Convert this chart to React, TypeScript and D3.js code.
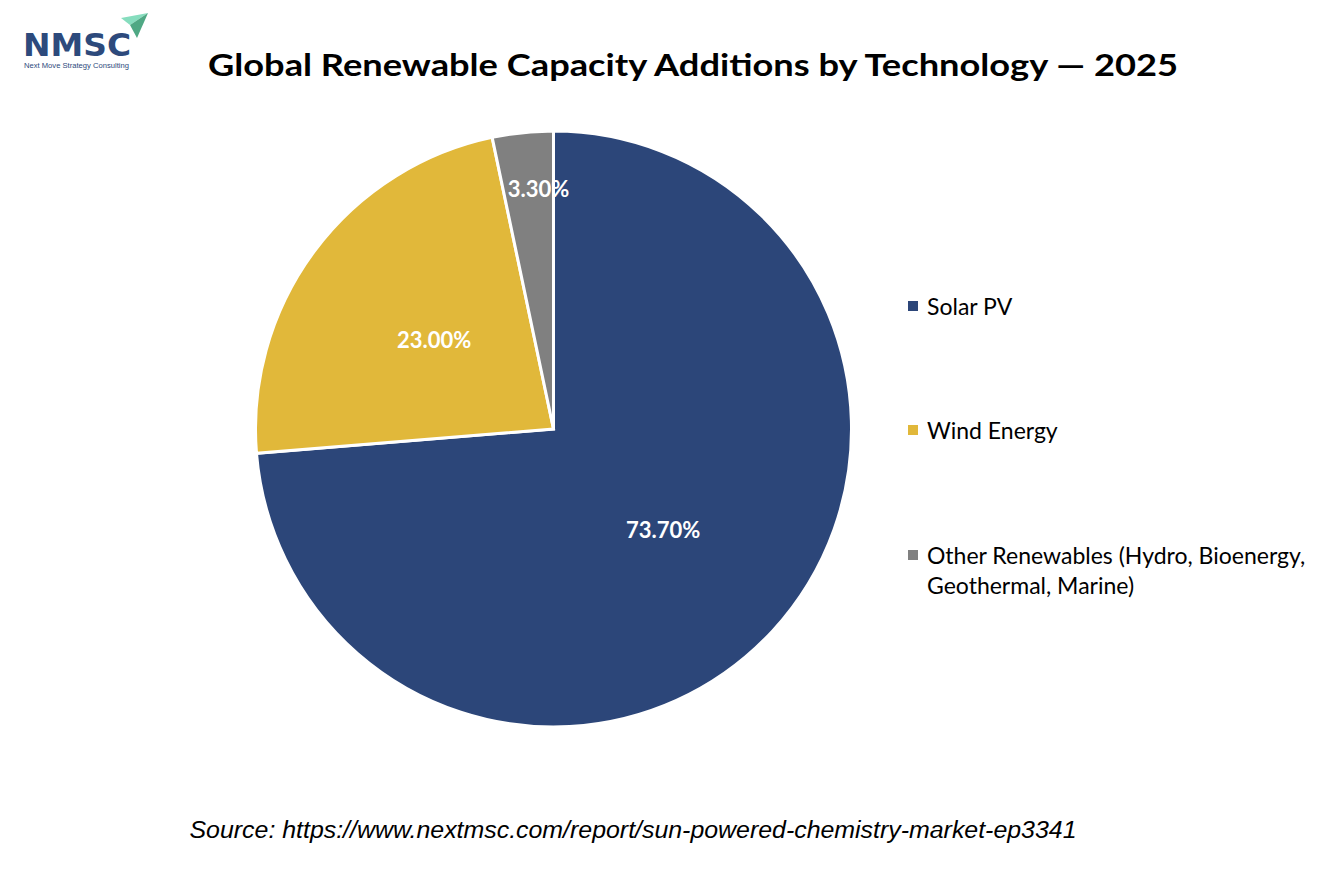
import React from "react";
import * as d3 from "d3";

const categories = [
  "Solar PV",
  "Wind Energy",
  "Other Renewables (Hydro, Bioenergy, Geothermal, Marine)",
];
const legendLines = [["Solar PV"], ["Wind Energy"], ["Other Renewables (Hydro, Bioenergy,", "Geothermal, Marine)"]];
const values = [73.7, 23.0, 3.3];
const valueLabels = ["73.70%", "23.00%", "3.30%"];
const colors = ["#2C4679", "#E1B83A", "#808080"];

const W = 1334;
const H = 889;
const cx = 553.5;
const cy = 429;
const R = 298;

export default function App() {
  const pie = d3.pie<number>().sort(null).value((d) => d)(values);
  const arc = d3.arc<d3.PieArcDatum<number>>().innerRadius(0).outerRadius(R);
  const legendY = [306, 430, 555];
  return (
    <svg
      width={W}
      height={H}
      style={{ position: "absolute", left: 0, top: 0, background: "#fff" }}
    >
      {/* Logo */}
      <g>
        <polygon points="121,18 148,13 130,25" fill="#86DDBE" />
        <polygon points="130,25 148,13 137,38" fill="#4FA884" />
        <text
          x={23}
          y={56}
          fontFamily="'DejaVu Sans', sans-serif"
          fontWeight="bold"
          fontSize={32}
          fill="#2D4A7C"
          textLength={108}
          lengthAdjust="spacingAndGlyphs"
        >
          NMSC
        </text>
        <text
          x={24}
          y={68}
          fontFamily="'Liberation Sans', sans-serif"
          fontSize={7}
          fill="#2D4A7C"
          textLength={105}
          lengthAdjust="spacingAndGlyphs"
        >
          Next Move Strategy Consulting
        </text>
      </g>

      <text
        x={693}
        y={76}
        textAnchor="middle"
        fontFamily="Lato, sans-serif"
        fontWeight="bold"
        fontSize={31}
        fill="#000"
        textLength={970}
        lengthAdjust="spacingAndGlyphs"
      >
        Global Renewable Capacity Additions by Technology — 2025
      </text>

      <g transform={`translate(${cx},${cy})`}>
        {pie.map((p, i) => (
          <path key={i} d={arc(p) || ""} fill={colors[i]} stroke="#fff" strokeWidth={3} />
        ))}
        {pie.map((p, i) => {
          const small = p.data < 5;
          const frac = small ? 0.81 : 0.5;
          const lab = d3.arc<d3.PieArcDatum<number>>().innerRadius(R * frac).outerRadius(R * frac);
          const [x, y] = lab.centroid(p);
          return (
            <text
              key={i}
              x={x + (small ? 10 : 0)}
              y={y}
              textAnchor="middle"
              dominantBaseline="central"
              fontFamily="Lato, sans-serif"
              fontWeight="bold"
              fontSize={22}
              fill="#fff"
            >
              {valueLabels[i]}
            </text>
          );
        })}
      </g>

      <g>
        {categories.map((c, i) => (
          <g key={c}>
            <rect x={908} y={legendY[i] - 5} width={10} height={10} fill={colors[i]} />
            {legendLines[i].map((l, j) => (
              <text
                key={j}
                x={927}
                y={legendY[i] + j * 30}
                dominantBaseline="central"
                fontFamily="Lato, sans-serif"
                fontSize={23}
                fill="#000"
              >
                {l}
              </text>
            ))}
          </g>
        ))}
      </g>

      <text
        x={633}
        y={838}
        textAnchor="middle"
        fontFamily="'Liberation Sans', Arial, sans-serif"
        fontStyle="italic"
        fontSize={23}
        fill="#000"
        textLength={887}
        lengthAdjust="spacingAndGlyphs"
      >
        Source: https://www.nextmsc.com/report/sun-powered-chemistry-market-ep3341
      </text>
    </svg>
  );
}
